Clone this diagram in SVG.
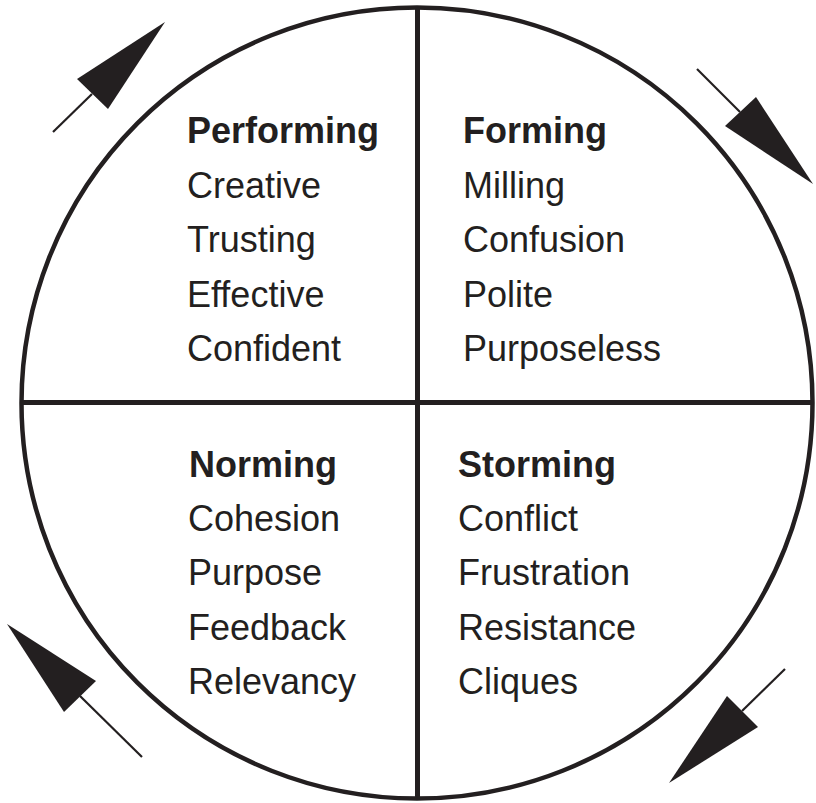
<svg xmlns="http://www.w3.org/2000/svg" width="816" height="803" viewBox="0 0 816 803">
<style>
.h{font-family:"Liberation Sans",Arial,sans-serif;font-weight:bold;font-size:36px;fill:#231f20}
.t{font-family:"Liberation Sans",Arial,sans-serif;font-size:36px;fill:#231f20}
.ln{stroke:#231f20;fill:none}
.ah{fill:#231f20}
</style>
<rect width="816" height="803" fill="#fff"/>
<g id="frame">
<circle class="ln" cx="417" cy="403" r="395.5" stroke-width="4.5"/>
<line class="ln" x1="417.5" y1="7" x2="417.5" y2="799" stroke-width="5"/>
<line class="ln" x1="21" y1="402.5" x2="813" y2="402.5" stroke-width="5"/>
</g>
<g id="performing">
<text class="h" x="187" y="143">Performing</text>
<text class="t" x="187" y="198">Creative</text>
<text class="t" x="187" y="252">Trusting</text>
<text class="t" x="187" y="307">Effective</text>
<text class="t" x="187" y="361">Confident</text>
</g>
<g id="forming">
<text class="h" x="463" y="143">Forming</text>
<text class="t" x="463" y="198">Milling</text>
<text class="t" x="463" y="252">Confusion</text>
<text class="t" x="463" y="307">Polite</text>
<text class="t" x="463" y="361">Purposeless</text>
</g>
<g id="norming">
<text class="h" x="189" y="477">Norming</text>
<text class="t" x="188" y="531">Cohesion</text>
<text class="t" x="188" y="585">Purpose</text>
<text class="t" x="188" y="640">Feedback</text>
<text class="t" x="188" y="694">Relevancy</text>
</g>
<g id="storming">
<text class="h" x="458" y="477">Storming</text>
<text class="t" x="458" y="531">Conflict</text>
<text class="t" x="458" y="585">Frustration</text>
<text class="t" x="458" y="640">Resistance</text>
<text class="t" x="458" y="694">Cliques</text>
</g>
<g id="connectors">
<line class="ln" x1="53" y1="132" x2="92" y2="94" stroke-width="2.2"/>
<polygon class="ah" points="165,22 77,79 108,109"/>
<line class="ln" x1="697" y1="69" x2="740" y2="112" stroke-width="2.2"/>
<polygon class="ah" points="813,184 725,126 756,97"/>
<line class="ln" x1="142" y1="757" x2="80" y2="696" stroke-width="2.2"/>
<polygon class="ah" points="7,624 96,681 64,712"/>
<line class="ln" x1="785" y1="669" x2="742" y2="711" stroke-width="2.2"/>
<polygon class="ah" points="669,783 727,696 758,727"/>
</g>
</svg>
